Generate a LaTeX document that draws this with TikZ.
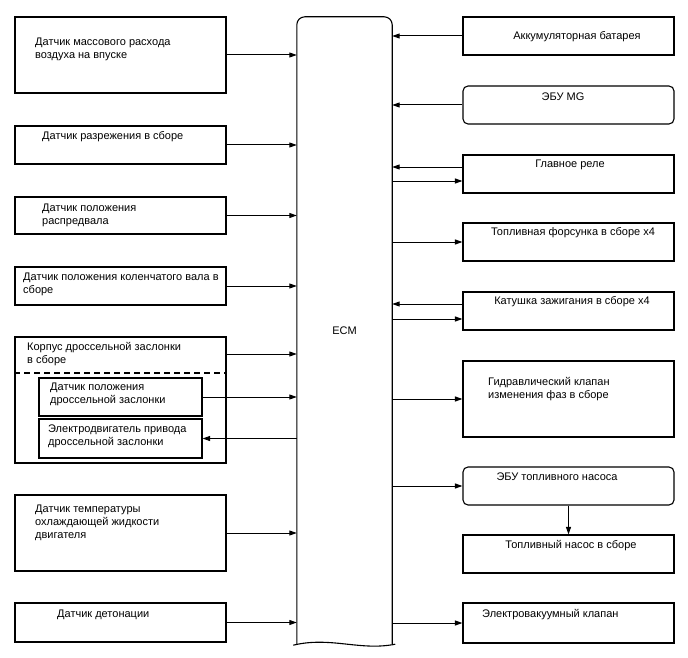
\documentclass[tikz,border=0pt]{standalone}
\usepackage{fontspec}
\setmainfont{Liberation Sans}
\usetikzlibrary{arrows.meta}
\tikzset{
  box/.style={draw,line width=1.1pt,minimum width=211pt,inner sep=0pt},
  rbox/.style={box,rounded corners=5pt},
  inbox/.style={box,minimum width=163pt},
  txt/.style={align=left,inner sep=0pt,font=\fontsize{11}{13}\selectfont},
  sig/.style={-{Triangle[length=7.5pt,width=5pt]},line width=1pt}
}
\begin{document}
\begin{tikzpicture}[x=1pt,y=-1pt]
\useasboundingbox (0,0) rectangle (688,658);
\node[minimum width=95pt,minimum height=627pt,inner sep=0pt,txt] (ecm) at (344.5,330.5) {ECM};
\draw[line width=1.1pt,rounded corners=8pt] (ecm.south west) -- (ecm.north west) -- (ecm.north east) -- (ecm.south east);
\draw[line width=1.1pt] ([shift={(3,0)}]ecm.south east) .. controls ([shift={(-32,7)}]ecm.south east) and ([shift={(-62,-8)}]ecm.south east) .. ([shift={(-99,1)}]ecm.south east);

\node[box,minimum height=76pt] (maf) at (120.5,55) {};
\node[box,minimum height=38pt] (vac) at (120.5,145) {};
\node[box,minimum height=37pt] (cam) at (120.5,215.5) {};
\node[box,minimum height=38pt] (crank) at (120.5,286) {};
\node[box,minimum height=126pt] (tb) at (120.5,400) {};
\node[inbox,minimum height=38pt] (tps) at (120.5,397) {};
\node[inbox,minimum height=39pt] (tmot) at (120.5,438.5) {};
\node[box,minimum height=76pt] (ect) at (120.5,533) {};
\node[box,minimum height=39pt] (knock) at (120.5,622.5) {};
\draw[line width=1.1pt,dash pattern=on 6pt off 4pt] ([yshift=27pt]tb.west) -- ([yshift=27pt]tb.east);

\node[txt,anchor=west] at (35,49) {Датчик массового расхода\\воздуха на впуске};
\node[txt,anchor=west] at (42,137) {Датчик разрежения в сборе};
\node[txt,anchor=west] at (42,215) {Датчик положения\\распредвала};
\node[txt,anchor=west] at (23,284) {Датчик положения коленчатого вала в\\сборе};
\node[txt,anchor=west] at (27,354.5) {Корпус дроссельной заслонки\\в сборе};
\node[txt,anchor=west] at (50,394.5) {Датчик положения\\дроссельной заслонки};
\node[txt,anchor=west] at (48,436.5) {Электродвигатель привода\\дроссельной заслонки};
\node[txt,anchor=west] at (35,522.5) {Датчик температуры\\охлаждающей жидкости\\двигателя};
\node[txt,anchor=west] at (57,615) {Датчик детонации};

\node[box,minimum height=38pt] (bat) at (568.5,36) {};
\node[rbox,minimum height=38pt] (mg) at (568.5,105) {};
\node[box,minimum height=38pt] (relay) at (568.5,174) {};
\node[box,minimum height=38pt] (inj) at (568.5,242) {};
\node[box,minimum height=38pt] (coil) at (568.5,311) {};
\node[box,minimum height=76pt] (vvt) at (568.5,399) {};
\node[rbox,minimum height=38pt] (pecu) at (568.5,486) {};
\node[box,minimum height=38pt] (pump) at (568.5,554) {};
\node[box,minimum height=40pt] (evac) at (568.5,623) {};

\node[txt] at (577,37) {Аккумуляторная батарея};
\node[txt] at (563,97) {ЭБУ MG};
\node[txt] at (570,165) {Главное реле};
\node[txt] at (573,233) {Топливная форсунка в сборе x4};
\node[txt] at (572,302) {Катушка зажигания в сборе x4};
\node[txt,anchor=west] at (488,389.5) {Гидравлический клапан\\изменения фаз в сборе};
\node[txt] at (557,477) {ЭБУ топливного насоса};
\node[txt] at (571,546) {Топливный насос в сборе};
\node[txt,anchor=west] at (482,615) {Электровакуумный клапан};

\draw[sig] (maf.east) -- (maf.east -| ecm.west);
\draw[sig] (vac.east) -- (vac.east -| ecm.west);
\draw[sig] (cam.east) -- (cam.east -| ecm.west);
\draw[sig] (crank.east) -- (crank.east -| ecm.west);
\draw[sig] ([yshift=46pt]tb.east) -- ([yshift=46pt]tb.east -| ecm.west);
\draw[sig] (tps.east) -- (tps.east -| ecm.west);
\draw[sig] (tmot.east -| ecm.west) -- (tmot.east);
\draw[sig] (ect.east) -- (ect.east -| ecm.west);
\draw[sig] (knock.east) -- (knock.east -| ecm.west);

\draw[sig] (bat.west) -- (bat.west -| ecm.east);
\draw[sig] (mg.west) -- (mg.west -| ecm.east);
\draw[sig] ([yshift=7pt]relay.west) -- ([yshift=7pt]relay.west -| ecm.east);
\draw[sig] ([yshift=-7pt]relay.west -| ecm.east) -- ([yshift=-7pt]relay.west);
\draw[sig] (inj.west -| ecm.east) -- (inj.west);
\draw[sig] ([yshift=7pt]coil.west) -- ([yshift=7pt]coil.west -| ecm.east);
\draw[sig] ([yshift=-8pt]coil.west -| ecm.east) -- ([yshift=-8pt]coil.west);
\draw[sig] (vvt.west -| ecm.east) -- (vvt.west);
\draw[sig] (pecu.west -| ecm.east) -- (pecu.west);
\draw[sig] (pecu.south) -- (pump.north);
\draw[sig] (evac.west -| ecm.east) -- (evac.west);
\end{tikzpicture}
\end{document}
